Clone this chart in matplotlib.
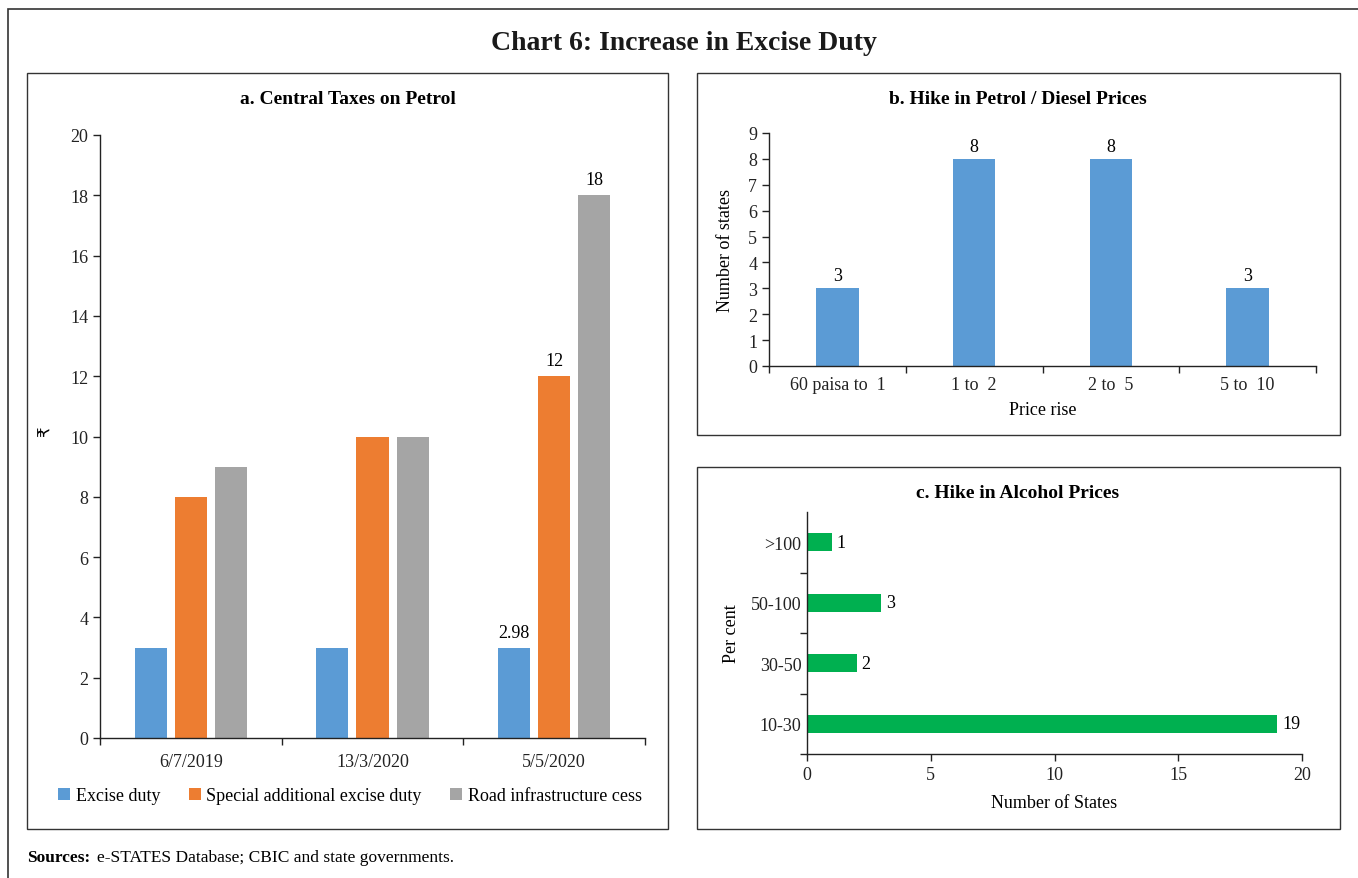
import matplotlib.pyplot as plt
import numpy as np
from matplotlib.patches import Rectangle

plt.rcParams['font.family'] = ['Liberation Serif', 'DejaVu Sans']
plt.rcParams['font.size'] = 13

# a. Central taxes on petrol (Rs per litre)
dates = ["6/7/2019", "13/3/2020", "5/5/2020"]
excise = [3, 3, 2.98]
special = [8, 10, 12]
road_cess = [9, 10, 18]

# b. Hike in petrol / diesel prices
price_bins = ["60 paisa to  1", "1 to  2", "2 to  5", "5 to  10"]
price_states = [3, 8, 8, 3]

# c. Hike in alcohol prices
alc_bins = ["10-30", "30-50", "50-100", ">100"]
alc_states = [19, 2, 3, 1]

BLUE = "#5B9BD5"
ORANGE = "#ED7D31"
GREY = "#A5A5A5"
GREEN = "#00B050"

W, H = 1358, 879
fig = plt.figure(figsize=(W / 100, H / 100), dpi=100)


def px_axes(left, top, right, bottom):
    return fig.add_axes([left / W, 1 - bottom / H, (right - left) / W, (bottom - top) / H])


def px_box(left, top, right, bottom, lw=1.0):
    fig.add_artist(Rectangle((left / W, 1 - bottom / H), (right - left) / W, (bottom - top) / H,
                             transform=fig.transFigure, fill=False, ec="#333333", lw=lw))


def style(ax):
    for s in ["top", "right"]:
        ax.spines[s].set_visible(False)
    for s in ["left", "bottom"]:
        ax.spines[s].set_color("#222222")
        ax.spines[s].set_linewidth(1.0)
    ax.tick_params(colors="#222222", labelsize=13, length=5, width=1, direction="out")


# outer frame and panel frames
px_box(8, 10, 1375, 895, lw=1.2)
px_box(27, 74, 668, 830)
px_box(697, 74, 1340, 436)
px_box(697, 468, 1340, 830)

fig.text(684 / W, 1 - 44 / H, "Chart 6: Increase in Excise Duty", ha="center", va="center",
         fontsize=20, fontweight="bold", color="#1a1a1a")
fig.text(27 / W, 1 - 858 / H, "Sources:", ha="left", va="center", fontsize=12.5,
         fontweight="bold")
fig.text(97 / W, 1 - 858 / H, "e-STATES Database; CBIC and state governments.", ha="left",
         va="center", fontsize=12.5)

# panel a
ax1 = px_axes(100, 136, 645, 739)
style(ax1)
x = np.arange(len(dates))
bw = 0.177
gap = 0.221
b1 = ax1.bar(x - gap, excise, bw, color=BLUE, label="Excise duty")
b2 = ax1.bar(x, special, bw, color=ORANGE, label="Special additional excise duty")
b3 = ax1.bar(x + gap, road_cess, bw, color=GREY, label="Road infrastructure cess")
ax1.text(x[2] - gap, excise[2] + 0.25, f"{excise[2]:.2f}", ha="center", va="bottom", fontsize=13)
ax1.text(x[2], special[2] + 0.25, f"{special[2]}", ha="center", va="bottom", fontsize=13)
ax1.text(x[2] + gap, road_cess[2] + 0.25, f"{road_cess[2]}", ha="center", va="bottom", fontsize=13)
ax1.set_xlim(-0.5, 2.5)
ax1.set_ylim(0, 20)
ax1.set_yticks(range(0, 21, 2))
ax1.set_xticks(x)
ax1.set_xticklabels(dates)
ax1.tick_params(axis="x", length=0, pad=11)
ax1.set_xticks([-0.5, 0.5, 1.5, 2.5], minor=True)
ax1.tick_params(axis="x", which="minor", length=5, width=1, direction="out", colors="#222222")
fig.text(47 / W, 1 - 432 / H, "₹", rotation=90, ha="center", va="center", fontsize=12)
fig.text(348 / W, 1 - 99 / H, "a. Central Taxes on Petrol", ha="center", va="center",
         fontsize=14, fontweight="bold")
fig.legend(handles=[b1, b2, b3], loc="center", bbox_to_anchor=(350 / W, 1 - 797 / H), ncol=3,
           frameon=False, handlelength=0.65, handleheight=0.65, handletextpad=0.3,
           columnspacing=1.6, fontsize=13)

# panel b
ax2 = px_axes(769, 134, 1316, 367)
style(ax2)
xb = np.arange(len(price_bins))
ax2.bar(xb, price_states, 0.31, color=BLUE)
for xi, v in zip(xb, price_states):
    ax2.text(xi, v + 0.15, str(v), ha="center", va="bottom", fontsize=13)
ax2.set_xlim(-0.5, 3.5)
ax2.set_ylim(0, 9)
ax2.set_yticks(range(0, 10))
ax2.set_xticks(xb)
ax2.set_xticklabels(price_bins)
ax2.tick_params(axis="x", length=0, pad=7)
ax2.set_xticks([-0.5, 0.5, 1.5, 2.5, 3.5], minor=True)
ax2.tick_params(axis="x", which="minor", length=5, width=1, direction="out", colors="#222222")
ax2.set_xlabel("Price rise", fontsize=13, labelpad=6)
ax2.set_ylabel("Number of states", fontsize=13, labelpad=10)
fig.text(1018 / W, 1 - 99 / H, "b. Hike in Petrol / Diesel Prices", ha="center", va="center",
         fontsize=14, fontweight="bold")

# panel c
ax3 = px_axes(807, 513, 1302, 755)
style(ax3)
yc = np.arange(len(alc_bins))
ax3.barh(yc, alc_states, 0.3, color=GREEN)
for yi, v in zip(yc, alc_states):
    ax3.text(v + 0.2, yi, str(v), ha="left", va="center", fontsize=13)
ax3.set_xlim(0, 20)
ax3.set_ylim(-0.5, 3.5)
ax3.set_xticks(range(0, 21, 5))
ax3.set_yticks(yc)
ax3.set_yticklabels(alc_bins)
ax3.tick_params(axis="y", length=0, pad=4)
ax3.set_yticks([-0.5, 0.5, 1.5, 2.5], minor=True)
ax3.tick_params(axis="y", which="minor", length=5, width=1, direction="out", colors="#222222")
ax3.set_xlabel("Number of States", fontsize=13, labelpad=8)
ax3.set_ylabel("Per cent", fontsize=13, labelpad=8)
fig.text(1018 / W, 1 - 493 / H, "c. Hike in Alcohol Prices", ha="center", va="center",
         fontsize=14, fontweight="bold")

fig.savefig("out.png", dpi=100)
